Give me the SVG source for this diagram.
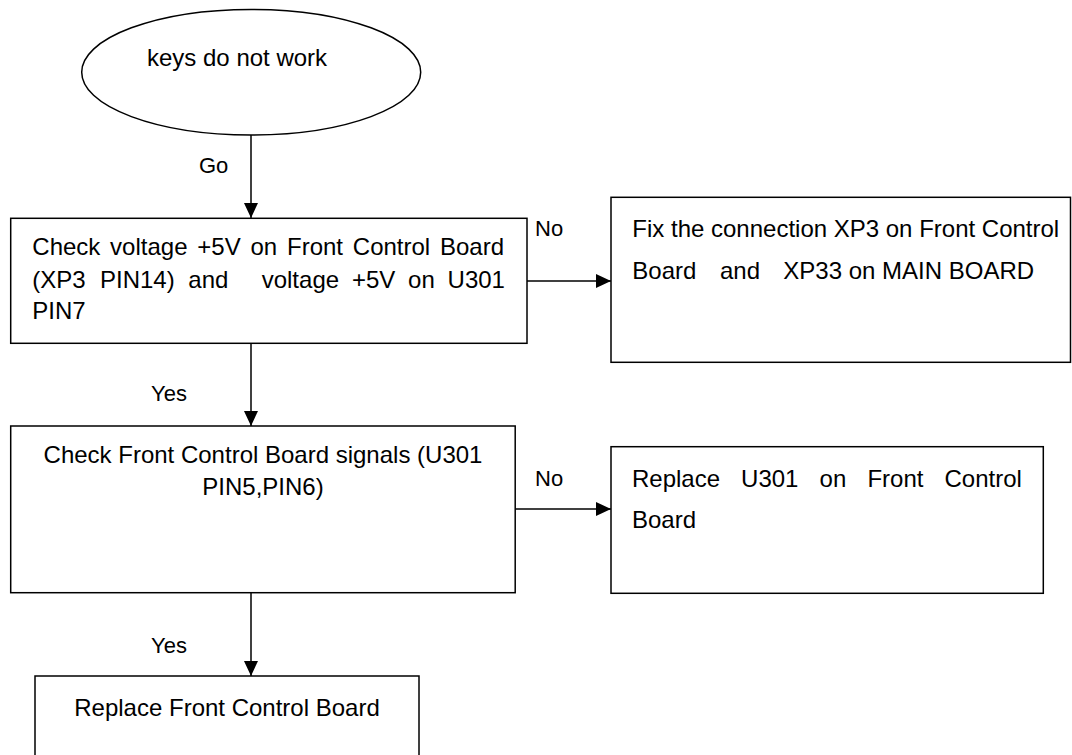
<svg xmlns="http://www.w3.org/2000/svg" width="1072" height="755" viewBox="0 0 1072 755">
<style>
  .shape { fill: #ffffff; stroke: #000000; stroke-width: 1.5; }
  .t { font-family: "Liberation Sans", Arial, sans-serif; font-size: 24px; fill: #000000; }
  .lbl { font-family: "Liberation Sans", Arial, sans-serif; font-size: 22px; fill: #000000; }
  .edge { fill: none; stroke: #000000; stroke-width: 1.5; }
</style>
<defs>
  <marker id="arrow" markerUnits="userSpaceOnUse" markerWidth="16" markerHeight="14" refX="15" refY="7" orient="auto">
    <path d="M0,0 L15,7 L0,14 Z" fill="#000000"/>
  </marker>
</defs>
<rect width="1072" height="755" fill="#ffffff"/>

<g id="connectors">
  <line class="edge" x1="251" y1="135" x2="251" y2="218" marker-end="url(#arrow)"/>
  <text class="lbl" x="199" y="173">Go</text>
  <line class="edge" x1="527" y1="281" x2="611" y2="281" marker-end="url(#arrow)"/>
  <text class="lbl" x="535" y="236">No</text>
  <line class="edge" x1="251" y1="343" x2="251" y2="426" marker-end="url(#arrow)"/>
  <text class="lbl" x="151" y="401">Yes</text>
  <line class="edge" x1="515" y1="509" x2="611" y2="509" marker-end="url(#arrow)"/>
  <text class="lbl" x="535" y="486">No</text>
  <line class="edge" x1="251" y1="593" x2="251" y2="676" marker-end="url(#arrow)"/>
  <text class="lbl" x="151" y="653">Yes</text>
</g>

<g id="start">
  <ellipse class="shape" cx="251.2" cy="72.2" rx="169.5" ry="62.8"/>
  <text class="t" x="147" y="66">keys do not work</text>
</g>

<g id="check-voltage">
  <rect class="shape" x="10.7" y="218.3" width="516.3" height="125"/>
  <text class="t" y="255"><tspan x="32.3">Check</tspan><tspan x="110.1">voltage</tspan><tspan x="197.3">+5V</tspan><tspan x="250.5">on</tspan><tspan x="287">Front</tspan><tspan x="352.8">Control</tspan><tspan x="440">Board</tspan></text>
  <text class="t" y="287.5"><tspan x="32.3">(XP3</tspan><tspan x="100">PIN14)</tspan><tspan x="188.3">and</tspan><tspan x="261.7">voltage</tspan><tspan x="351.9">+5V</tspan><tspan x="408.1">on</tspan><tspan x="447.6">U301</tspan></text>
  <text class="t" x="32.3" y="319">PIN7</text>
</g>

<g id="fix-connection">
  <rect class="shape" x="611" y="197.3" width="459.5" height="165"/>
  <text class="t" x="632.3" y="237">Fix the connection XP3 on Front Control</text>
  <text class="t" y="279"><tspan x="632.3">Board</tspan><tspan x="720">and</tspan><tspan x="783.3">XP33 on MAIN BOARD</tspan></text>
</g>

<g id="check-signals">
  <rect class="shape" x="10.7" y="426" width="504.5" height="166.7"/>
  <text class="t" x="263" y="463" text-anchor="middle">Check Front Control Board signals (U301</text>
  <text class="t" x="263" y="495" text-anchor="middle">PIN5,PIN6)</text>
</g>

<g id="replace-u301">
  <rect class="shape" x="611" y="446.7" width="432.3" height="146.6"/>
  <text class="t" y="487"><tspan x="632">Replace</tspan><tspan x="741.1">U301</tspan><tspan x="819.6">on</tspan><tspan x="867.4">Front</tspan><tspan x="944.5">Control</tspan></text>
  <text class="t" x="632" y="528">Board</text>
</g>

<g id="replace-board">
  <rect class="shape" x="35" y="676" width="384" height="100"/>
  <text class="t" x="227" y="716" text-anchor="middle">Replace Front Control Board</text>
</g>
</svg>
